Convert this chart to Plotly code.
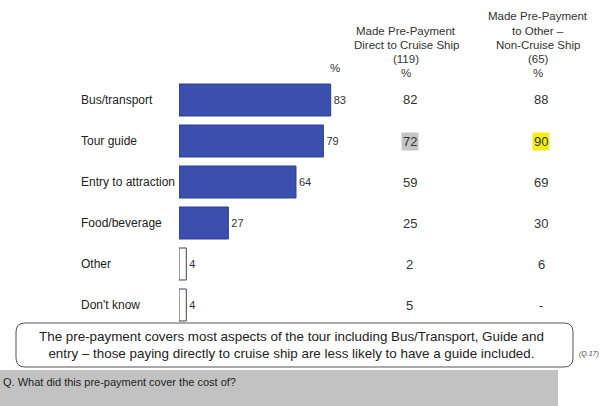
import plotly.graph_objects as go

W, H = 601, 406

categories = ["Bus/transport", "Tour guide", "Entry to attraction", "Food/beverage", "Other", "Don't know"]
total = [83, 79, 64, 27, 4, 4]
direct_cruise = ["82", "72", "59", "25", "2", "5"]
other_non_cruise = ["88", "90", "69", "30", "6", "-"]

bar_fill = ["#3B4FAF", "#3B4FAF", "#3B4FAF", "#3B4FAF", "#FFFFFF", "#FFFFFF"]
bar_edge = ["#2E3F8F", "#2E3F8F", "#2E3F8F", "#2E3F8F", "#444444", "#444444"]

FONT = "Liberation Sans, Arial, sans-serif"


def px(x):
    return x / W


def py(y):
    return 1 - y / H


fig = go.Figure()
fig.add_trace(go.Bar(
    y=categories, x=total, orientation="h",
    marker=dict(color=bar_fill, line=dict(color=bar_edge, width=1)),
    width=0.78,
    text=[str(v) for v in total], textposition="outside",
    textfont=dict(size=11, color="#333333", family=FONT),
    cliponaxis=False, hoverinfo="skip",
))

ann = []
# category labels
for c in categories:
    ann.append(dict(x=px(79), xref="paper", y=c, yref="y", text=c, showarrow=False,
                    xanchor="left", yanchor="middle", font=dict(size=12, color="#222222", family=FONT)))
# column values
for c, v in zip(categories, direct_cruise):
    extra = {}
    if c == "Tour guide":
        extra = dict(bgcolor="#C4C4C4", borderpad=1)
    ann.append(dict(x=px(410), xref="paper", y=c, yref="y", text=v, showarrow=False,
                    xanchor="center", yanchor="middle", font=dict(size=13, color="#333333", family=FONT), **extra))
for c, v in zip(categories, other_non_cruise):
    extra = {}
    if c == "Tour guide":
        extra = dict(bgcolor="#F2EE1A", borderpad=1)
    ann.append(dict(x=px(541), xref="paper", y=c, yref="y", text=v, showarrow=False,
                    xanchor="center", yanchor="middle", font=dict(size=13, color="#333333", family=FONT), **extra))

# headers
hdr_font = dict(size=11.5, color="#333333", family=FONT)
col2_lines = ["Made Pre-Payment", "Direct to Cruise Ship", "(119)", "%"]
col3_lines = ["Made Pre-Payment", "to Other \u2013", "Non-Cruise Ship", "(65)", "%"]
for i, t in enumerate(col2_lines):
    ann.append(dict(x=px(406), xref="paper", y=py(30.5 + 14.3 * i), yref="paper", text=t, showarrow=False,
                    xanchor="center", yanchor="middle", font=hdr_font))
for i, t in enumerate(col3_lines):
    ann.append(dict(x=px(538), xref="paper", y=py(16.2 + 14.3 * i), yref="paper", text=t, showarrow=False,
                    xanchor="center", yanchor="middle", font=hdr_font))
ann.append(dict(x=px(335), xref="paper", y=py(68), yref="paper", text="%", showarrow=False,
                xanchor="center", yanchor="middle", font=hdr_font))

# summary box text
ann.append(dict(x=px(291), xref="paper", y=py(345), yref="paper",
                text="The pre-payment covers most aspects of the tour including Bus/Transport, Guide and<br>"
                     "entry \u2013 those paying directly to cruise ship are less likely to have a guide included.",
                showarrow=False, xanchor="center", yanchor="middle", align="center",
                font=dict(size=13.4, color="#222222", family=FONT)))
ann.append(dict(x=px(577), xref="paper", y=py(354), yref="paper", text="<i>(Q.17)</i>", showarrow=False,
                xanchor="left", yanchor="middle", font=dict(size=7, color="#444444", family=FONT)))
ann.append(dict(x=px(1), xref="paper", y=py(382), yref="paper", text="Q. What did this pre-payment cover the cost of?",
                showarrow=False, xanchor="left", yanchor="middle", font=dict(size=11, color="#222222", family=FONT)))

# rounded box
x0, x1, y0, y1, r = 16, 573, 323, 367, 9
path = (f"M {px(x0 + r)} {py(y0)} L {px(x1 - r)} {py(y0)} Q {px(x1)} {py(y0)} {px(x1)} {py(y0 + r)} "
        f"L {px(x1)} {py(y1 - r)} Q {px(x1)} {py(y1)} {px(x1 - r)} {py(y1)} "
        f"L {px(x0 + r)} {py(y1)} Q {px(x0)} {py(y1)} {px(x0)} {py(y1 - r)} "
        f"L {px(x0)} {py(y0 + r)} Q {px(x0)} {py(y0)} {px(x0 + r)} {py(y0)} Z")
shapes = [
    dict(type="rect", xref="paper", yref="paper", x0=0, x1=px(558), y0=0, y1=py(370),
         fillcolor="#C2C2C2", line=dict(width=0), layer="below"),
    dict(type="path", xref="paper", yref="paper", path=path, fillcolor="#FFFFFF",
         line=dict(color="#555555", width=1), layer="above"),
]

fig.update_layout(
    width=W, height=H, margin=dict(l=0, r=0, t=0, b=0),
    paper_bgcolor="#FFFFFF", plot_bgcolor="#FFFFFF",
    showlegend=False, annotations=ann, shapes=shapes,
    xaxis=dict(domain=[px(179), 1], range=[0, (W - 179) / 1.828], showgrid=False, zeroline=False,
               showticklabels=False, showline=False, fixedrange=True),
    yaxis=dict(domain=[py(325.5), py(79.5)], categoryorder="array", categoryarray=categories,
               range=[5.5, -0.5], showgrid=False, zeroline=False, showticklabels=False, showline=False,
               fixedrange=True),
    font=dict(family=FONT),
)

fig.write_html("out.html", config={"displayModeBar": False},
               post_script="document.body.style.margin='0';document.body.style.overflow='hidden';")
